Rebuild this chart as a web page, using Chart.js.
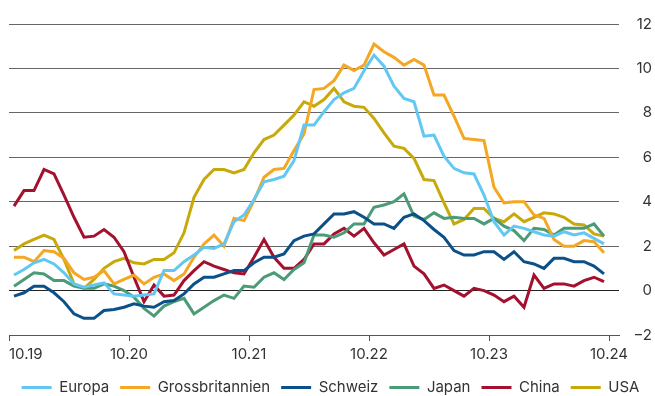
<!DOCTYPE html>
<html>
<head>
<meta charset="utf-8">
<script src="https://cdn.jsdelivr.net/npm/chart.js@4/dist/chart.umd.min.js"></script>
<style>
  body { margin: 0; background: #fff; }
  #wrap { width: 655px; height: 396px; }
</style>
</head>
<body>
<div id="wrap"><canvas id="inflation" width="655" height="396"></canvas></div>
<script>
// monthly values, 10.19 .. 09.24
const tickLabels = ['10.19', '10.20', '10.21', '10.22', '10.23', '10.24'];

const europa = [
  0.7, 0.95, 1.25, 1.4, 1.2, 0.8, 0.3, 0.15, 0.25, 0.35,
  -0.15, -0.2, -0.25, -0.2, -0.15, 0.9, 0.9, 1.3, 1.6, 1.95,
  1.9, 2.1, 3.1, 3.4, 4.1, 4.9, 5.0, 5.15, 5.85, 7.45,
  7.45, 8.05, 8.6, 8.9, 9.1, 9.9, 10.6, 10.1, 9.2, 8.65,
  8.5, 6.95, 7.0, 6.05, 5.5, 5.3, 5.25, 4.3, 3.1, 2.5,
  2.9, 2.8, 2.65, 2.5, 2.45, 2.65, 2.5, 2.6, 2.35, 2.1,
];
const gb = [
  1.5, 1.5, 1.3, 1.8, 1.75, 1.45, 0.8, 0.5, 0.6, 0.9,
  0.3, 0.5, 0.7, 0.3, 0.6, 0.75, 0.45, 0.75, 1.5, 2.1,
  2.5, 2.0, 3.25, 3.15, 4.05, 5.1, 5.45, 5.5, 6.3, 7.05,
  9.05, 9.1, 9.45, 10.15, 9.9, 10.15, 11.1, 10.75, 10.5, 10.15,
  10.4, 10.15, 8.8, 8.8, 7.85, 6.85, 6.8, 6.75, 4.65, 3.95,
  4.0, 4.0, 3.4, 3.25, 2.3, 2.0, 2.0, 2.25, 2.2, 1.7,
];
const schweiz = [
  -0.25, -0.1, 0.2, 0.2, -0.1, -0.5, -1.05, -1.25, -1.25, -0.9,
  -0.85, -0.75, -0.6, -0.7, -0.75, -0.5, -0.45, -0.15, 0.3, 0.6,
  0.6, 0.75, 0.9, 0.9, 1.25, 1.5, 1.5, 1.65, 2.25, 2.45,
  2.55, 3.0, 3.45, 3.45, 3.55, 3.3, 3.0, 3.0, 2.8, 3.3,
  3.45, 3.15, 2.75, 2.4, 1.8, 1.6, 1.6, 1.75, 1.75, 1.4,
  1.75, 1.3, 1.2, 1.0, 1.45, 1.45, 1.3, 1.3, 1.1, 0.75,
];
const japan = [
  0.2, 0.5, 0.8, 0.75, 0.45, 0.45, 0.2, 0.1, 0.1, 0.3,
  0.2, 0.0, -0.3, -0.8, -1.15, -0.7, -0.5, -0.35, -1.05, -0.75,
  -0.45, -0.2, -0.35, 0.2, 0.15, 0.6, 0.8, 0.5, 0.95, 1.25,
  2.5, 2.5, 2.4, 2.6, 3.0, 3.0, 3.75, 3.85, 4.0, 4.35,
  3.35, 3.2, 3.5, 3.25, 3.3, 3.25, 3.25, 3.0, 3.25, 2.9,
  2.7, 2.25, 2.8, 2.75, 2.5, 2.8, 2.8, 2.8, 3.0, 2.45,
];
const china = [
  3.8, 4.5, 4.5, 5.45, 5.25, 4.3, 3.3, 2.4, 2.45, 2.75,
  2.4, 1.75, 0.6, -0.5, 0.25, -0.25, -0.2, 0.45, 0.9, 1.3,
  1.1, 0.95, 0.8, 0.75, 1.5, 2.3, 1.5, 1.0, 1.0, 1.4,
  2.1, 2.1, 2.55, 2.8, 2.45, 2.8, 2.15, 1.6, 1.85, 2.1,
  1.1, 0.75, 0.1, 0.25, 0.0, -0.25, 0.1, 0.0, -0.2, -0.5,
  -0.25, -0.75, 0.7, 0.1, 0.3, 0.3, 0.2, 0.45, 0.6, 0.4,
];
const usa = [
  1.8, 2.1, 2.3, 2.5, 2.3, 1.4, 0.3, 0.1, 0.5, 1.0,
  1.3, 1.45, 1.25, 1.2, 1.4, 1.4, 1.7, 2.6, 4.2, 5.0,
  5.45, 5.45, 5.3, 5.45, 6.2, 6.8, 7.0, 7.45, 7.9, 8.5,
  8.3, 8.6, 9.1, 8.5, 8.3, 8.25, 7.75, 7.1, 6.5, 6.4,
  5.95, 5.0, 4.95, 3.95, 3.0, 3.2, 3.7, 3.7, 3.25, 3.1,
  3.45, 3.1, 3.3, 3.5, 3.45, 3.3, 3.0, 2.95, 2.55, 2.45,
];

const SERIES = [
  { label: 'Europa',          values: europa,  color: '#62c8f2' },
  { label: 'Grossbritannien', values: gb,      color: '#f5a623' },
  { label: 'Schweiz',         values: schweiz, color: '#0b5089' },
  { label: 'Japan',           values: japan,   color: '#4b9b76' },
  { label: 'China',           values: china,   color: '#a3112f' },
  { label: 'USA',             values: usa,     color: '#c8a90c' },
];

const TEXT = '#333';
const FONT = { family: "'Inter', sans-serif", size: 15 };

// month i sits in the middle of its slot, year ticks on slot borders
const toPoints = vals => vals.map((v, i) => ({ x: i + 0.5, y: v }));

new Chart(document.getElementById('inflation').getContext('2d'), {
  type: 'line',
  data: {
    datasets: SERIES.map(s => ({
      label: s.label,
      data: toPoints(s.values),
      borderColor: s.color,
      backgroundColor: s.color,
      borderWidth: 3,
      pointRadius: 0,
      tension: 0,
    })),
  },
  options: {
    responsive: false,
    animation: false,
    layout: { padding: { left: 9, right: 3, top: 22, bottom: -9 } },
    plugins: {
      tooltip: { enabled: false },
      legend: {
        position: 'bottom',
        labels: {
          color: TEXT,
          font: FONT,
          boxWidth: 30,
          boxHeight: 3,
          padding: 11,
          generateLabels: chart =>
            Chart.defaults.plugins.legend.labels.generateLabels(chart)
              .map(item => ({ ...item, lineWidth: 0 })),
        },
      },
    },
    scales: {
      x: {
        type: 'linear',
        min: 0,
        max: 61,
        afterBuildTicks: scale => {
          scale.ticks = [0, 12, 24, 36, 48, 60, 61].map(v => ({ value: v }));
        },
        afterFit: scale => { scale.height = 34; },
        ticks: {
          autoSkip: false,
          maxRotation: 0,
          align: 'inner',
          padding: 4,
          color: TEXT,
          font: FONT,
          callback: v => (v % 12 === 0 ? tickLabels[v / 12] : ''),
        },
        grid: {
          drawOnChartArea: false,
          drawTicks: true,
          tickLength: 6,
          color: ctx => (ctx.tick && ctx.tick.value === 61 ? 'rgba(0,0,0,0)' : '#555'),
        },
        border: { display: true, color: '#555' },
      },
      y: {
        position: 'right',
        min: -2,
        max: 12,
        afterFit: scale => { scale.width = 33; },
        ticks: {
          stepSize: 2,
          padding: 15,
          crossAlign: 'far',
          color: TEXT,
          font: FONT,
          callback: v => String(v).replace('-', '\u2212'),
        },
        grid: {
          drawTicks: false,
          color: ctx => (ctx.tick && ctx.tick.value === 0 ? '#222' : '#666'),
        },
        border: { display: false },
      },
    },
  },
});
</script>
</body>
</html>
